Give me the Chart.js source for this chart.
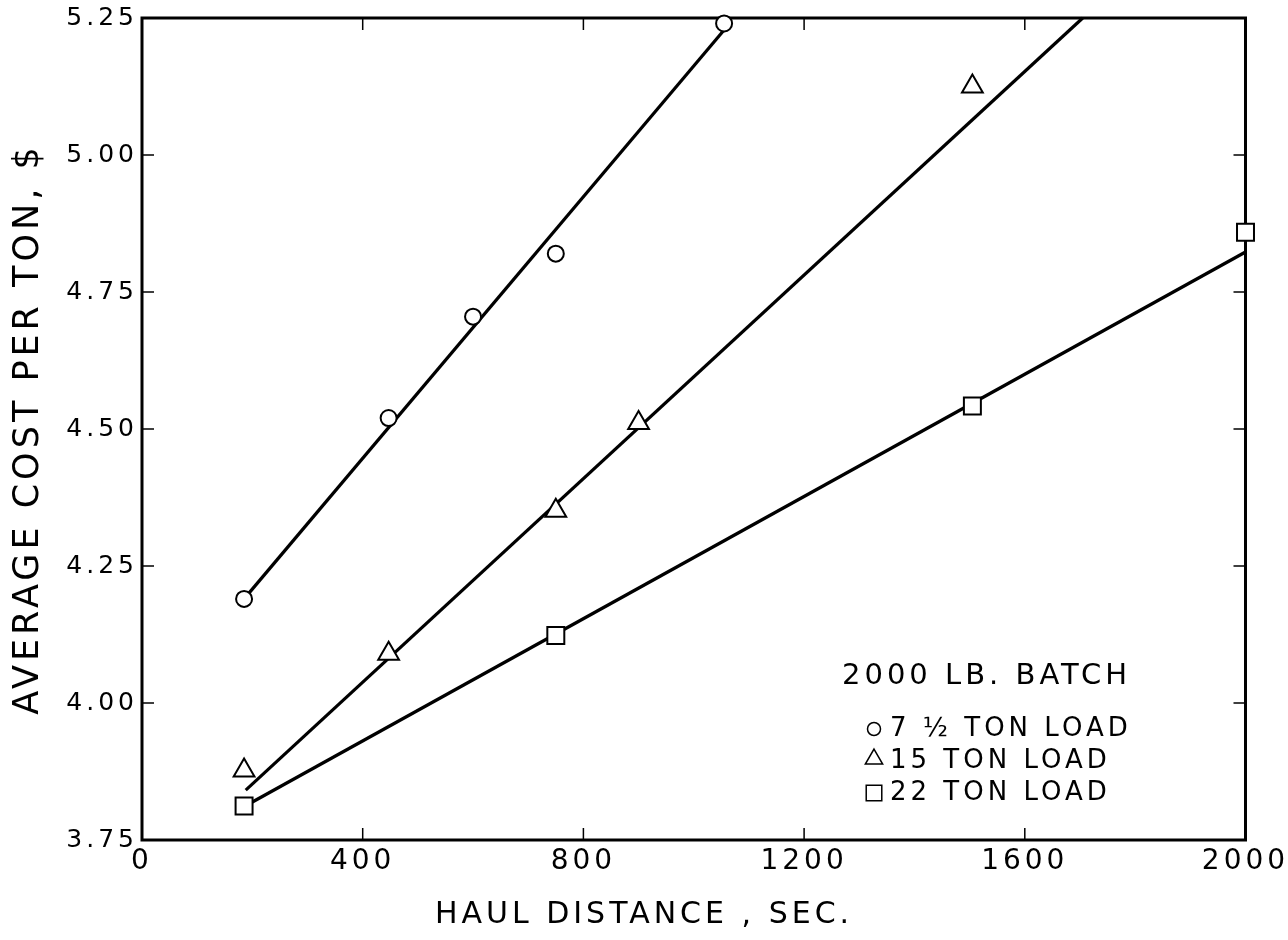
<!DOCTYPE html>
<html>
<head>
<meta charset="utf-8">
<script src="https://cdn.jsdelivr.net/npm/chart.js@4.4.1/dist/chart.umd.min.js"></script>
<style>
  html, body { margin: 0; padding: 0; background: #fff; }
  canvas { display: block; }
</style>
</head>
<body>
<canvas id="chart" width="1288" height="940"></canvas>
<script>
const xTicks = [0, 400, 800, 1200, 1600, 2000];
const yTicks = [3.75, 4.00, 4.25, 4.50, 4.75, 5.00, 5.25];

// measured points
const circleX = [185, 447, 600, 750, 1055];
const circleY = [4.19, 4.52, 4.705, 4.82, 5.24];
const triangleX = [185, 447, 750, 900, 1505];
const triangleY = [3.877, 4.09, 4.351, 4.511, 5.125];
const squareX = [185, 750, 1505, 2000];
const squareY = [3.812, 4.123, 4.542, 4.859];

// fitted lines, two ends each
const circleFitX = [185, 1055];
const circleFitY = [4.19, 5.228];
const triangleFitX = [188, 1705];
const triangleFitY = [3.841, 5.25];
const squareFitX = [187, 2000];
const squareFitY = [3.812, 4.823];

const legendTitle = '2000 LB. BATCH';
const legendLabels = ['7 ½ TON LOAD', '15 TON LOAD', '22 TON LOAD'];
const legendStyles = ['circle', 'triangle', 'rect'];

const FONT = '"DejaVu Sans", sans-serif';

function pts(xs, ys) {
    return xs.map((x, i) => ({x: x, y: ys[i]}));
}

function markerSet(xs, ys, style, r) {
    return {
        data: pts(xs, ys),
        showLine: false,
        pointStyle: style,
        pointRadius: r,
        pointBorderWidth: 2,
        pointBorderColor: '#000',
        pointBackgroundColor: '#fff',
        clip: false
    };
}

function fitSet(xs, ys) {
    return {
        data: pts(xs, ys),
        showLine: true,
        borderColor: '#000',
        borderWidth: 3.2,
        pointRadius: 0,
        clip: false
    };
}

// no outer label padding, the plot box is placed by hand
function noPad(s) {
    s.paddingLeft = 0;
    s.paddingRight = 0;
    s.paddingTop = 0;
    s.paddingBottom = 0;
}

const frame = {
    id: 'frame',
    beforeUpdate(chart) { chart.ctx.letterSpacing = '4px'; },
    beforeDraw(chart) { chart.ctx.letterSpacing = '4px'; },
    beforeDatasetsDraw(chart) {
        const {ctx, chartArea: a, scales: {x, y}} = chart;
        ctx.save();
        ctx.strokeStyle = '#000';
        ctx.lineWidth = 3;
        ctx.strokeRect(a.left, a.top, a.right - a.left, a.bottom - a.top);
        ctx.lineWidth = 1.5;
        ctx.beginPath();
        x.ticks.forEach(t => {
            if (t.value <= x.min || t.value >= x.max) return;
            const px = x.getPixelForValue(t.value);
            ctx.moveTo(px, a.bottom); ctx.lineTo(px, a.bottom - 12);
            ctx.moveTo(px, a.top); ctx.lineTo(px, a.top + 12);
        });
        y.ticks.forEach(t => {
            if (t.value <= y.min || t.value >= y.max) return;
            const py = y.getPixelForValue(t.value);
            ctx.moveTo(a.left, py); ctx.lineTo(a.left + 12, py);
            ctx.moveTo(a.right, py); ctx.lineTo(a.right - 12, py);
        });
        ctx.stroke();
        ctx.restore();
    },
    afterDraw(chart) {
        const ctx = chart.ctx;
        ctx.save();
        ctx.fillStyle = '#000';
        ctx.textBaseline = 'middle';
        ctx.textAlign = 'left';
        ctx.font = '29px ' + FONT;
        ctx.fillText(legendTitle, 842, 676);
        ctx.font = '26px ' + FONT;
        const rows = [729, 761, 793];
        const sizes = [6.5, 10, 11];
        legendLabels.forEach((label, i) => {
            ctx.lineWidth = 1.5;
            ctx.strokeStyle = '#000';
            ctx.fillStyle = '#fff';
            Chart.helpers.drawPoint(ctx, {pointStyle: legendStyles[i], radius: sizes[i], rotation: 0, borderWidth: 1.5}, 874, rows[i] - (i === 1 ? 2 : 0));
            ctx.fillStyle = '#000';
            ctx.fillText(label, 890, rows[i]);
        });
        ctx.restore();
    }
};

new Chart(document.getElementById('chart'), {
    type: 'scatter',
    data: {
        datasets: [
            markerSet(circleX, circleY, 'circle', 8),
            markerSet(triangleX, triangleY, 'triangle', 12),
            markerSet(squareX, squareY, 'rect', 12),
            fitSet(circleFitX, circleFitY),
            fitSet(triangleFitX, triangleFitY),
            fitSet(squareFitX, squareFitY)
        ]
    },
    options: {
        responsive: false,
        animation: false,
        events: [],
        layout: { padding: { left: 0, top: 18, right: 0, bottom: 7 } },
        plugins: {
            legend: { display: false },
            tooltip: { enabled: false },
            title: {
                display: true,
                position: 'bottom',
                text: 'HAUL DISTANCE , SEC.',
                color: '#000',
                font: { family: FONT, size: 30, weight: 'normal', lineHeight: 1.2 },
                padding: 0
            }
        },
        scales: {
            x: {
                type: 'linear',
                min: 0,
                max: 2000,
                afterBuildTicks: s => { s.ticks = xTicks.map(v => ({value: v})); },
                afterFit: s => { s.height = 57; noPad(s); },
                grid: { display: false, drawTicks: false },
                border: { display: false },
                ticks: {
                    padding: 5,
                    color: '#000',
                    maxRotation: 0,
                    autoSkip: false,
                    font: { family: FONT, size: 28, lineHeight: 1.2 },
                    callback: v => String(v)
                }
            },
            y: {
                type: 'linear',
                min: 3.75,
                max: 5.25,
                afterBuildTicks: s => { s.ticks = yTicks.map(v => ({value: v})); },
                afterFit: s => { s.width = 142; noPad(s); },
                grid: { display: false, drawTicks: false },
                border: { display: false },
                ticks: {
                    padding: 4,
                    color: '#000',
                    autoSkip: false,
                    font: { family: FONT, size: 25 },
                    callback: v => v.toFixed(2)
                },
                title: {
                    display: true,
                    text: 'AVERAGE COST PER TON, $',
                    color: '#000',
                    font: { family: FONT, size: 35, lineHeight: 1.2 },
                    padding: { top: 8, bottom: 0 }
                }
            },
            y2: {
                type: 'linear',
                position: 'right',
                min: 0,
                max: 1,
                afterFit: s => { s.width = 42.5; noPad(s); },
                grid: { display: false, drawTicks: false },
                border: { display: false },
                ticks: { display: false }
            }
        }
    },
    plugins: [frame]
});
</script>
</body>
</html>
